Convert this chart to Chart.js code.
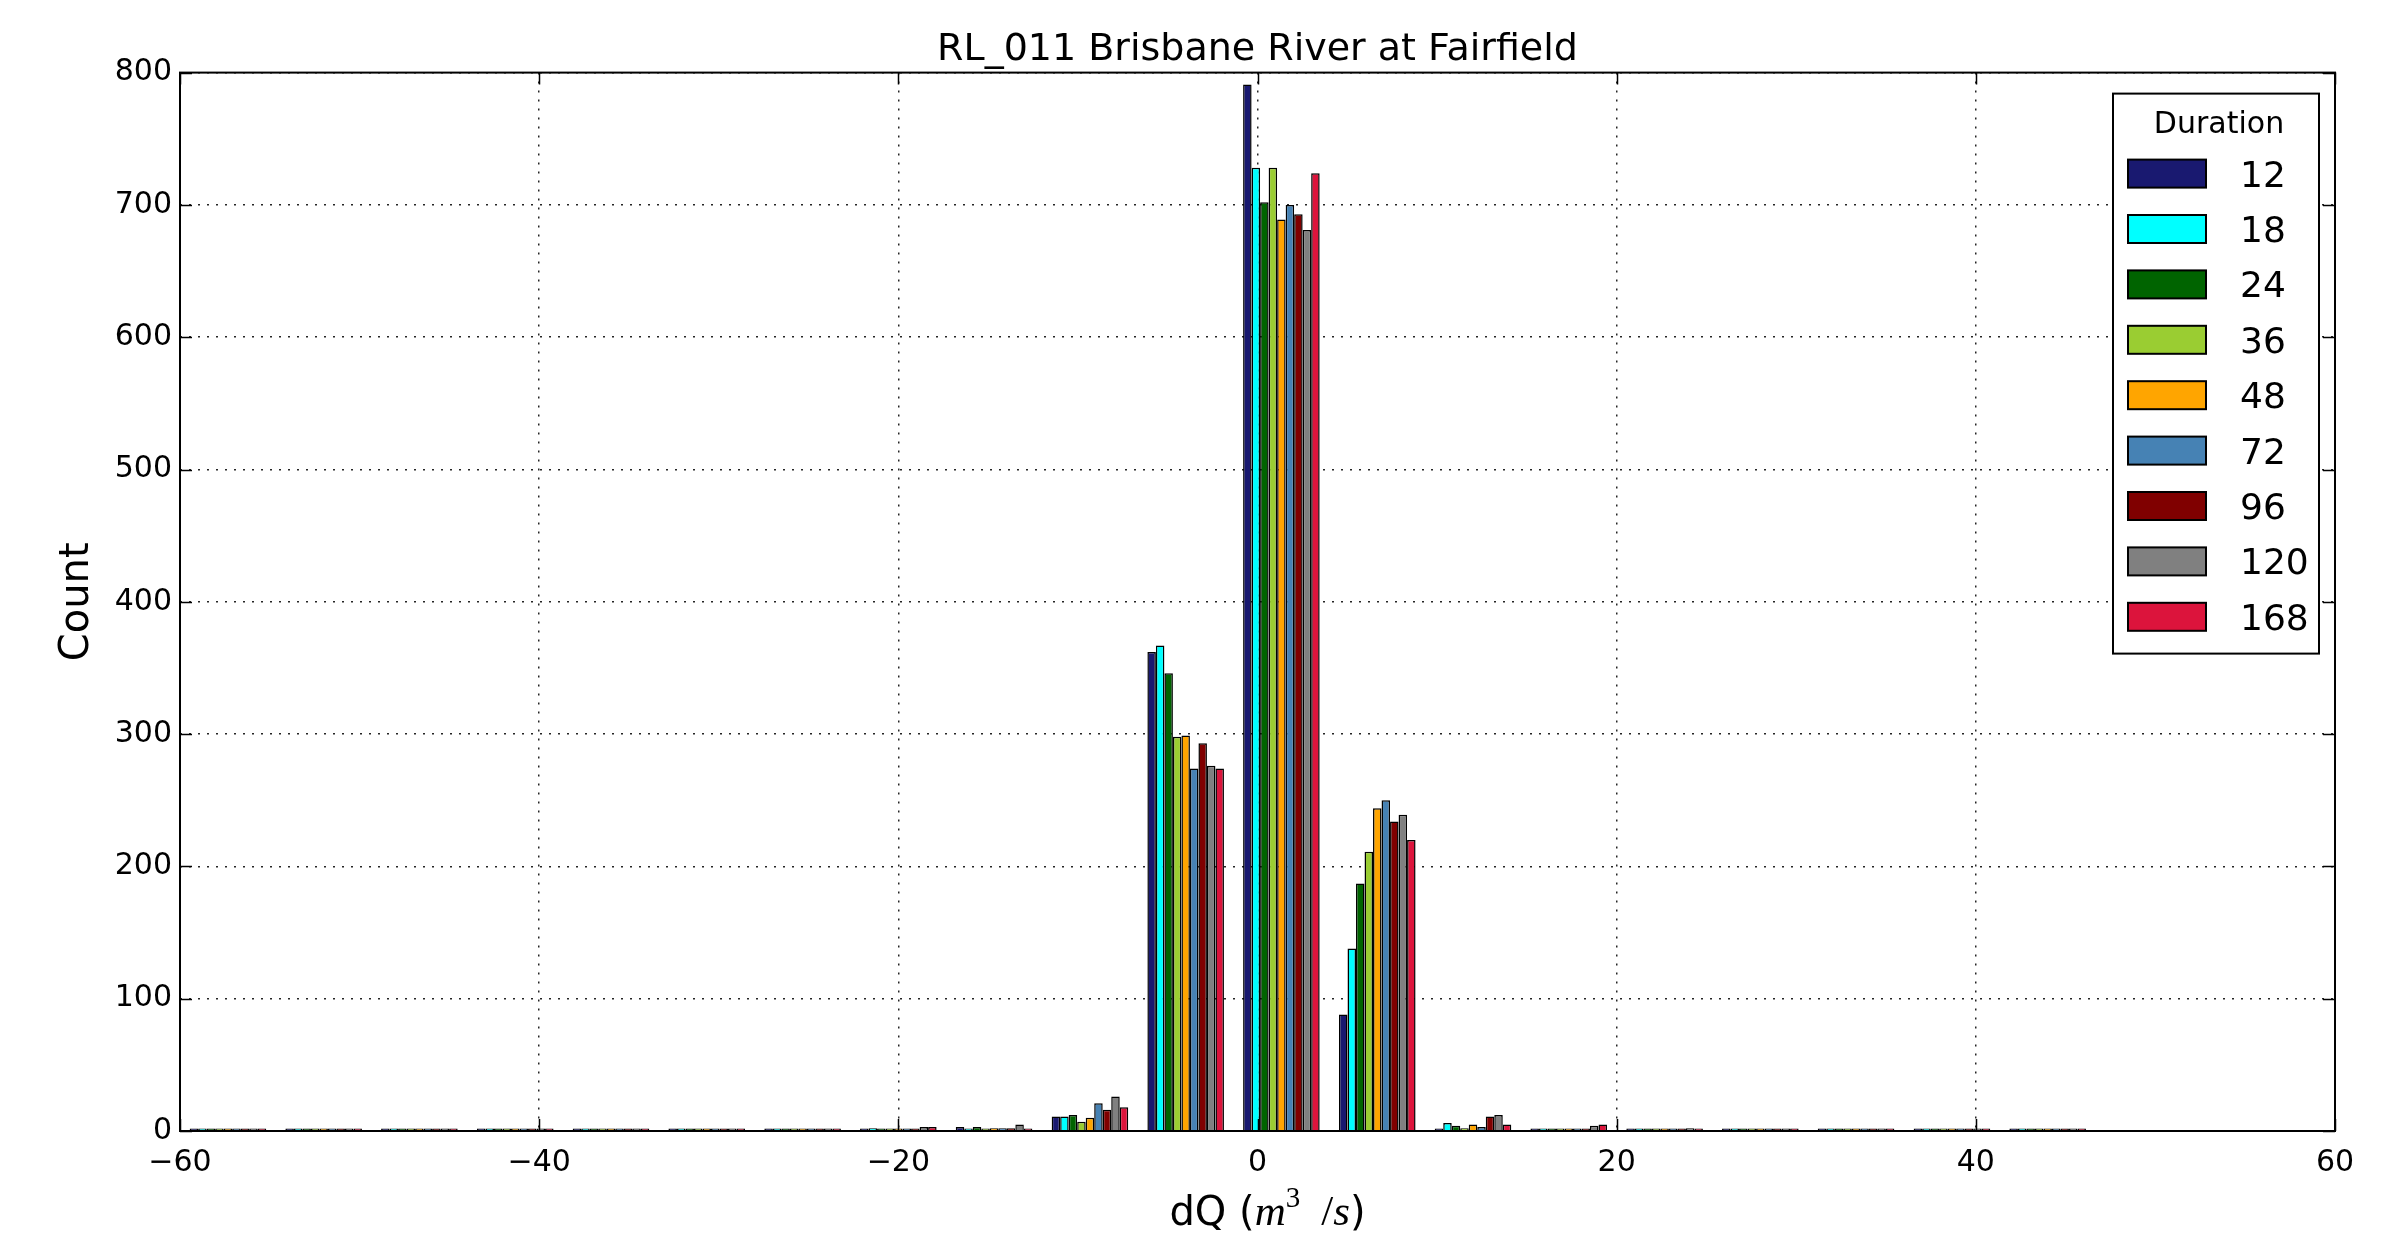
<!DOCTYPE html>
<html>
<head>
<meta charset="utf-8">
<title>RL_011 Brisbane River at Fairfield</title>
<script src="https://cdn.jsdelivr.net/npm/chart.js@4.4.1/dist/chart.umd.min.js"></script>
<style>
  html, body { margin: 0; padding: 0; background: #fff; }
  #wrap { width: 2381px; height: 1245px; }
</style>
</head>
<body>
<div id="wrap"><canvas id="hist"></canvas></div>
<script>
// bin centres of the dQ histogram (m3/s), 20 bins of width 16/3 starting at -60
const binCenters = [-57.33, -52, -46.67, -41.33, -36, -30.67, -25.33, -20, -14.67, -9.33,
  -4, 1.33, 6.67, 12, 17.33, 22.67, 28, 33.33, 38.67, 44];

// counts per bin, one array per duration (hours)
const dur12  = [0, 0, 0, 0, 0, 0, 0, 0, 3, 11, 362, 791,  88,  1, 1, 0, 0, 0, 0, 0];
const dur18  = [0, 0, 0, 0, 0, 0, 0, 2, 1, 11, 367, 728, 138,  6, 0, 1, 0, 0, 0, 0];
const dur24  = [0, 0, 0, 0, 0, 0, 1, 1, 3, 12, 346, 702, 187,  4, 0, 0, 0, 0, 0, 0];
const dur36  = [0, 0, 0, 0, 0, 1, 0, 1, 1,  7, 298, 728, 211,  2, 1, 1, 0, 0, 0, 0];
const dur48  = [0, 0, 0, 0, 0, 0, 1, 1, 2, 10, 299, 689, 244,  5, 1, 0, 0, 0, 0, 0];
const dur72  = [0, 0, 0, 1, 0, 0, 1, 0, 2, 21, 274, 700, 250,  3, 1, 1, 0, 0, 0, 0];
const dur96  = [1, 0, 0, 0, 0, 0, 0, 1, 2, 16, 293, 693, 234, 11, 1, 1, 0, 0, 0, 1];
const dur120 = [0, 0, 0, 0, 0, 1, 1, 3, 5, 26, 276, 681, 239, 12, 4, 2, 1, 1, 0, 0];
const dur168 = [0, 0, 0, 1, 0, 0, 0, 3, 1, 18, 274, 724, 220,  5, 5, 1, 0, 0, 0, 0];

const durations = ['12', '18', '24', '36', '48', '72', '96', '120', '168'];
const series = [dur12, dur18, dur24, dur36, dur48, dur72, dur96, dur120, dur168];
const colors = ['#191970', '#00ffff', '#006400', '#9acd32', '#ffa500', '#4682b4', '#800000', '#808080', '#dc143c'];

const FONT = 'DejaVu Sans';

function _minus(v) {
  return String(v).replace('-', '\u2212');
}

// matplotlib-style frame with ticks pointing inwards on all four sides
const frameTicks = {
  id: 'frameTicks',
  afterDraw(chart) {
    const { ctx, chartArea: a, scales } = chart;
    const len = 12;
    ctx.save();
    ctx.strokeStyle = '#000';
    ctx.lineWidth = 1.5;
    ctx.beginPath();
    scales.x.ticks.forEach(t => {
      const px = Math.round(scales.x.getPixelForValue(t.value)) + 0.5;
      ctx.moveTo(px, a.bottom); ctx.lineTo(px, a.bottom - len);
      ctx.moveTo(px, a.top); ctx.lineTo(px, a.top + len);
    });
    scales.y.ticks.forEach(t => {
      const py = Math.round(scales.y.getPixelForValue(t.value)) + 0.5;
      ctx.moveTo(a.left, py); ctx.lineTo(a.left + len, py);
      ctx.moveTo(a.right, py); ctx.lineTo(a.right - len, py);
    });
    ctx.stroke();
    ctx.lineWidth = 2;
    ctx.strokeRect(a.left, a.top, a.right - a.left, a.bottom - a.top);
    ctx.restore();
  }
};

// boxed legend in the upper right corner, titled "Duration"
const durationLegend = {
  id: 'durationLegend',
  afterDraw(chart) {
    const { ctx, chartArea: a } = chart;
    const x0 = a.right - 222, y0 = a.top + 21, w = 206, h = 560;
    ctx.save();
    ctx.fillStyle = '#fff';
    ctx.fillRect(x0, y0, w, h);
    ctx.strokeStyle = '#000';
    ctx.lineWidth = 2;
    ctx.strokeRect(x0, y0, w, h);

    ctx.fillStyle = '#000';
    ctx.textBaseline = 'alphabetic';
    ctx.textAlign = 'center';
    ctx.font = '30px "' + FONT + '"';
    ctx.fillText('Duration', x0 + w / 2 + 3, y0 + 39);

    ctx.textAlign = 'left';
    ctx.font = '36px "' + FONT + '"';
    chart.data.datasets.forEach((ds, i) => {
      const cy = y0 + 80 + i * 55.4;
      ctx.fillStyle = ds.backgroundColor;
      ctx.fillRect(x0 + 15, cy - 14, 78, 28);
      ctx.strokeRect(x0 + 15, cy - 14, 78, 28);
      ctx.fillStyle = '#000';
      ctx.fillText(ds.label, x0 + 127, cy + 13);
    });
    ctx.restore();
  }
};

// x axis label with mathtext-like m^3/s
const xLabel = {
  id: 'xLabel',
  afterDraw(chart) {
    const { ctx, chartArea: a } = chart;
    const serif = 'Liberation Serif';
    const parts = [
      { t: 'dQ (', f: '40px "' + FONT + '"', dy: 0 },
      { t: 'm', f: 'italic 43px "' + serif + '"', dy: 0 },
      { t: '3', f: '29px "' + serif + '"', dy: -18 },
      { t: '  ', f: '42px "' + serif + '"', dy: 0 },
      { t: '/', f: '43px "' + serif + '"', dy: 0 },
      { t: 's', f: 'italic 43px "' + serif + '"', dy: 0 },
      { t: ')', f: '40px "' + FONT + '"', dy: 0 }
    ];
    ctx.save();
    let total = 0;
    parts.forEach(p => { ctx.font = p.f; p.w = ctx.measureText(p.t).width; total += p.w; });
    let x = (a.left + a.right) / 2 + 10 - total / 2;
    const base = 1225;
    ctx.fillStyle = '#000';
    ctx.textAlign = 'left';
    ctx.textBaseline = 'alphabetic';
    parts.forEach(p => {
      ctx.font = p.f;
      ctx.fillText(p.t, x, base + p.dy);
      x += p.w;
    });
    ctx.restore();
  }
};

const datasets = durations.map((d, i) => ({
  label: d,
  data: series[i].map((c, k) => ({ x: binCenters[k], y: c })),
  backgroundColor: colors[i],
  borderColor: '#000',
  borderWidth: 1.5,
  minBarLength: 2.5,
  categoryPercentage: 0.8,
  barPercentage: 1.0
}));

new Chart(document.getElementById('hist'), {
  type: 'bar',
  data: { datasets: datasets },
  plugins: [frameTicks, durationLegend, xLabel],
  options: {
    responsive: true,
    maintainAspectRatio: false,
    devicePixelRatio: 1,
    animation: false,
    layout: { padding: { left: 0, right: 46, top: 0, bottom: 0 } },
    plugins: {
      legend: { display: false },
      tooltip: { enabled: false },
      title: {
        display: true,
        fullSize: false,
        text: 'RL_011 Brisbane River at Fairfield',
        color: '#000',
        font: { family: FONT, size: 38, weight: 'normal' },
        padding: { top: 27, bottom: 0 }
      }
    },
    scales: {
      x: {
        type: 'linear',
        min: -60,
        max: 60,
        offset: false,
        afterFit: s => { s.height = 114; },
        ticks: {
          stepSize: 20,
          maxRotation: 0,
          padding: 14,
          color: '#000',
          font: { family: FONT, size: 30 },
          callback: v => _minus(v)
        },
        grid: { color: 'rgba(0,0,0,0.85)', lineWidth: 1.5, drawTicks: false, offset: false },
        border: { display: false, dash: [2, 7] }
      },
      y: {
        min: 0,
        max: 800,
        afterFit: s => { s.width = 180; },
        ticks: {
          stepSize: 100,
          padding: 8,
          color: '#000',
          font: { family: FONT, size: 30 }
        },
        grid: { color: 'rgba(0,0,0,0.85)', lineWidth: 1.5, drawTicks: false },
        border: { display: false, dash: [2, 7] },
        title: {
          display: true,
          text: 'Count',
          color: '#000',
          font: { family: FONT, size: 40 },
          padding: { top: 54, bottom: 0 }
        }
      }
    }
  }
});
</script>
</body>
</html>
